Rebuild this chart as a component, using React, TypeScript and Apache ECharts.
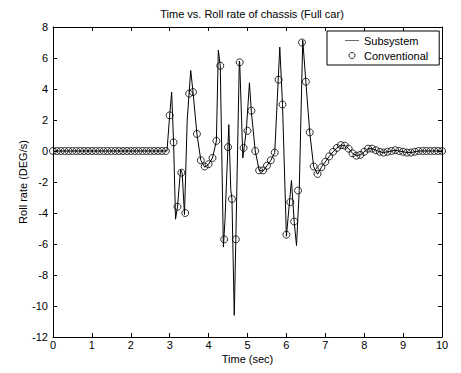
import React, { useEffect, useRef } from "react";
import * as echarts from "echarts";

const TITLE = "Time vs. Roll rate of chassis (Full car)";
const X_LABEL = "Time (sec)";
const Y_LABEL = "Roll rate (DEG/s)";

// Conventional: sampled every 0.1 s from 0 to 10 s
const CONV_STEP = 0.1;
const conventionalValues = [
  0, 0, 0, 0, 0, 0, 0, 0, 0, 0,
  0, 0, 0, 0, 0, 0, 0, 0, 0, 0,
  0, 0, 0, 0, 0, 0, 0, 0, 0, 0,
  2.3, 0.56, -3.6, -1.4, -4.0, 3.7, 3.8, 1.1, -0.6, -1.0,
  -0.85, -0.45, 0.65, 5.5, -5.7, 0.25, -3.1, -5.7, 5.72, 0.2,
  1.3, 2.6, 0, -1.25, -1.25, -0.95, -0.6, -0.1, 4.6, 3.0,
  -5.4, -3.3, -4.55, -2.55, 7.0, 4.47, 1.2, -1.0, -1.48, -1.05,
  -0.7, -0.35, -0.05, 0.2, 0.38, 0.35, 0.15, -0.15, -0.3, -0.25,
  -0.05, 0.15, 0.15, 0.05, -0.05, -0.1, -0.05, 0, 0.05, 0,
  -0.05, -0.1, -0.1, -0.05, 0, 0, 0, 0, 0, 0,
  0,
];

// Subsystem: vertices of the continuous trace
const subsystemTimes = [
  0, 2.93, 3.0, 3.05, 3.1, 3.15, 3.2, 3.28, 3.32, 3.38,
  3.45, 3.54, 3.6, 3.7, 3.8, 3.9, 4.0, 4.1, 4.2, 4.25,
  4.3, 4.38, 4.42, 4.52, 4.57, 4.6, 4.66, 4.7, 4.79, 4.8,
  4.88, 4.97, 5.05, 5.1, 5.2, 5.3, 5.4, 5.5, 5.6, 5.7,
  5.83, 5.9, 6.0, 6.13, 6.2, 6.26, 6.33, 6.42, 6.5, 6.6,
  6.7, 6.8, 6.9, 7.0, 7.1, 7.2, 7.3, 7.4, 7.5, 7.6,
  7.7, 7.8, 7.9, 8.0, 8.1, 8.2, 8.3, 8.4, 8.5, 8.6,
  8.7, 8.8, 8.9, 9.0, 9.1, 9.2, 9.3, 9.4, 10.0,
];
const subsystemValues = [
  0, 0, 2.3, 3.8, 0.56, -4.4, -3.6, -1.2, -1.4, -4.1,
  2.0, 5.2, 3.8, 1.1, -0.6, -1.05, -0.85, -0.45, 0.65, 6.5,
  5.5, -6.2, -4.5, 1.7, -2.5, -3.1, -10.6, -5.7, 5.8, 5.7,
  -0.45, 1.35, 4.4, 2.5, 0, -1.25, -1.3, -0.95, -0.6, -0.1,
  6.7, 3.0, -5.5, -1.9, -4.55, -6.1, -2.55, 7.15, 4.47, 1.2,
  -1.0, -1.5, -1.05, -0.7, -0.35, -0.05, 0.2, 0.38, 0.35, 0.15,
  -0.15, -0.3, -0.25, -0.05, 0.15, 0.15, 0.05, -0.05, -0.1, -0.05,
  0, 0.05, 0, -0.05, -0.1, -0.1, -0.05, 0, 0,
];

const xTicks = [0, 1, 2, 3, 4, 5, 6, 7, 8, 9, 10];
const yTicks = [-12, -10, -8, -6, -4, -2, 0, 2, 4, 6, 8];

const FONT = "Liberation Sans, Arial, sans-serif";

export default function App() {
  const ref = useRef<HTMLDivElement>(null);
  useEffect(() => {
    if (!ref.current) return;
    const chart = echarts.init(ref.current, null, { renderer: "svg" });
    const convData = conventionalValues.map((v, i) => [
      Math.round(i * CONV_STEP * 10) / 10,
      v,
    ]);
    const subData = subsystemTimes.map((t, i) => [t, subsystemValues[i]]);
    const axisCommon = {
      axisLine: { show: true, onZero: false, lineStyle: { color: "#000", width: 1 } },
      axisTick: { show: true, inside: true, length: 4, lineStyle: { color: "#000" } },
      splitLine: { show: false },
    };
    chart.setOption({
      animation: false,
      backgroundColor: "#fff",
      title: {
        text: TITLE,
        left: 247,
        textAlign: "center",
        top: 3,
        textStyle: { fontFamily: FONT, fontSize: 11, fontWeight: "normal", color: "#000" },
      },
      grid: { left: 53, right: 19, top: 27, bottom: 36 },
      legend: {
        left: 327,
        top: 31,
        orient: "vertical",
        itemGap: 4,
        itemWidth: 14,
        itemHeight: 6,
        padding: [4, 11, 4, 18],
        borderColor: "#000",
        borderWidth: 1,
        backgroundColor: "#fff",
        textStyle: { fontFamily: FONT, fontSize: 11, color: "#000" },
        data: [
          { name: "Subsystem", icon: "path://M0,0L24,0L24,1L0,1Z", itemStyle: { color: "#000" } },
          {
            name: "Conventional",
            icon: "circle",
            itemStyle: { color: "#fff", borderColor: "#000", borderWidth: 1 },
          },
        ],
      },
      xAxis: [
        {
          type: "value",
          min: 0,
          max: 10,
          interval: 1,
          position: "bottom",
          ...axisCommon,
          axisLabel: {
            fontFamily: FONT,
            fontSize: 11,
            color: "#000",
            margin: 2,
            formatter: (v: number) => (xTicks.includes(v) ? String(v) : ""),
          },
          name: X_LABEL,
          nameLocation: "middle",
          nameGap: 16,
          nameMoveOverlap: false,
          nameTextStyle: { fontFamily: FONT, fontSize: 11, color: "#000" },
        },
        {
          type: "value",
          min: 0,
          max: 10,
          interval: 1,
          position: "top",
          ...axisCommon,
          axisLabel: { show: false },
        },
      ],
      yAxis: [
        {
          type: "value",
          min: -12,
          max: 8,
          interval: 2,
          position: "left",
          ...axisCommon,
          axisLabel: {
            fontFamily: FONT,
            fontSize: 11,
            color: "#000",
            margin: 5,
            formatter: (v: number) => (yTicks.includes(v) ? String(v) : ""),
          },
          name: Y_LABEL,
          nameLocation: "middle",
          nameGap: 25,
          nameMoveOverlap: false,
          nameRotate: 90,
          nameTextStyle: { fontFamily: FONT, fontSize: 11, color: "#000" },
        },
        {
          type: "value",
          min: -12,
          max: 8,
          interval: 2,
          position: "right",
          ...axisCommon,
          axisLabel: { show: false },
        },
      ],
      series: [
        {
          name: "Subsystem",
          type: "line",
          data: subData,
          showSymbol: false,
          symbol: "none",
          lineStyle: { color: "#000", width: 1 },
          itemStyle: { color: "#000" },
          z: 2,
        },
        {
          name: "Conventional",
          type: "scatter",
          data: convData,
          symbol: "circle",
          symbolSize: 7,
          itemStyle: { color: "rgba(255,255,255,0)", borderColor: "#000", borderWidth: 1 },
          z: 3,
        },
      ],
    });
    return () => chart.dispose();
  }, []);
  return (
    <div
      ref={ref}
      style={{ position: "fixed", left: 0, top: 0, width: 461, height: 373 }}
    />
  );
}
